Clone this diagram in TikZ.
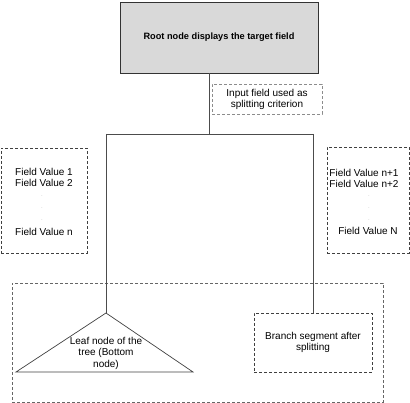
\documentclass[tikz,border=0pt]{standalone}
\usepackage{fontspec}
\setmainfont{Liberation Sans}
\begin{document}
\begin{tikzpicture}[x=1pt,y=-1pt,
  txt/.style={font=\fontsize{10}{11}\selectfont,inner sep=0pt},
  dotm/.style={text=black!25,font=\fontsize{6}{6}\selectfont,inner sep=0pt},
  conn/.style={draw=black!70,line width=0.8pt},
  dbox/.style={draw=black!75,dashed,dash pattern=on 3pt off 2pt,line width=0.7pt,
    rectangle,inner sep=0pt,align=center,font=\fontsize{10}{11}\selectfont},
  rootbox/.style={draw=black!80,fill=black!15,rectangle,line width=0.8pt,inner sep=0pt,
    font=\bfseries\fontsize{9.2}{11}\selectfont}]
\useasboundingbox (0,0) rectangle (410,403);
\node[rootbox,minimum width=198pt,minimum height=71pt] (root) at (219,37.5) {Root node displays the target field};
\node[dbox,draw=black!45,minimum width=110pt,minimum height=30pt] (input) at (267,99) {Input field used as\\splitting criterion};
\node[dbox,minimum width=86pt,minimum height=105pt] (left) at (44,200.5) {};
\node[txt,align=center] (lt) at (44,177.5) {Field Value 1\\Field Value 2};
\node[dotm] (ld1) at (42,196) {.};
\node[dotm] (ld2) at (42,208) {.};
\node[dotm] (ld3) at (42,220) {.};
\node[txt] (ln) at (44,232) {Field Value n};
\node[dbox,minimum width=82pt,minimum height=106pt] (right) at (368,200) {};
\node[txt,align=center] (rt) at (364,178) {Field Value n+1\\Field Value n+2};
\node[dotm] (rd1) at (369,196) {.};
\node[dotm] (rd2) at (369,208) {.};
\node[dotm] (rd3) at (369,220) {.};
\node[txt] (rn) at (368,231) {Field Value N};
\node[dbox,draw=black!60,minimum width=371pt,minimum height=119pt] (bottom) at (197.5,342.5) {};
\node[dbox,minimum width=118pt,minimum height=59pt] (branch) at (313,342.5) {Branch segment after\\splitting};
\coordinate (apex) at (106,313);
\coordinate (bl) at (16,372);
\coordinate (br) at (193,372);
\draw[black!75,line width=0.7pt] (apex) -- (br) -- (bl) -- cycle;
\node[align=center,txt,font=\fontsize{10}{11.5}\selectfont] (leaf) at (106,353) {Leaf node of the\\tree (Bottom\\node)};
\coordinate (j) at (209,134);
\coordinate (hl) at (106,134);
\coordinate (hr) at (313,134);
\draw[conn] (root.south -| j) -- (j);
\draw[conn] (hl) -- (hr);
\draw[conn] (hl) -- (apex);
\draw[conn] (hr) -- (branch.north);
\end{tikzpicture}
\end{document}
